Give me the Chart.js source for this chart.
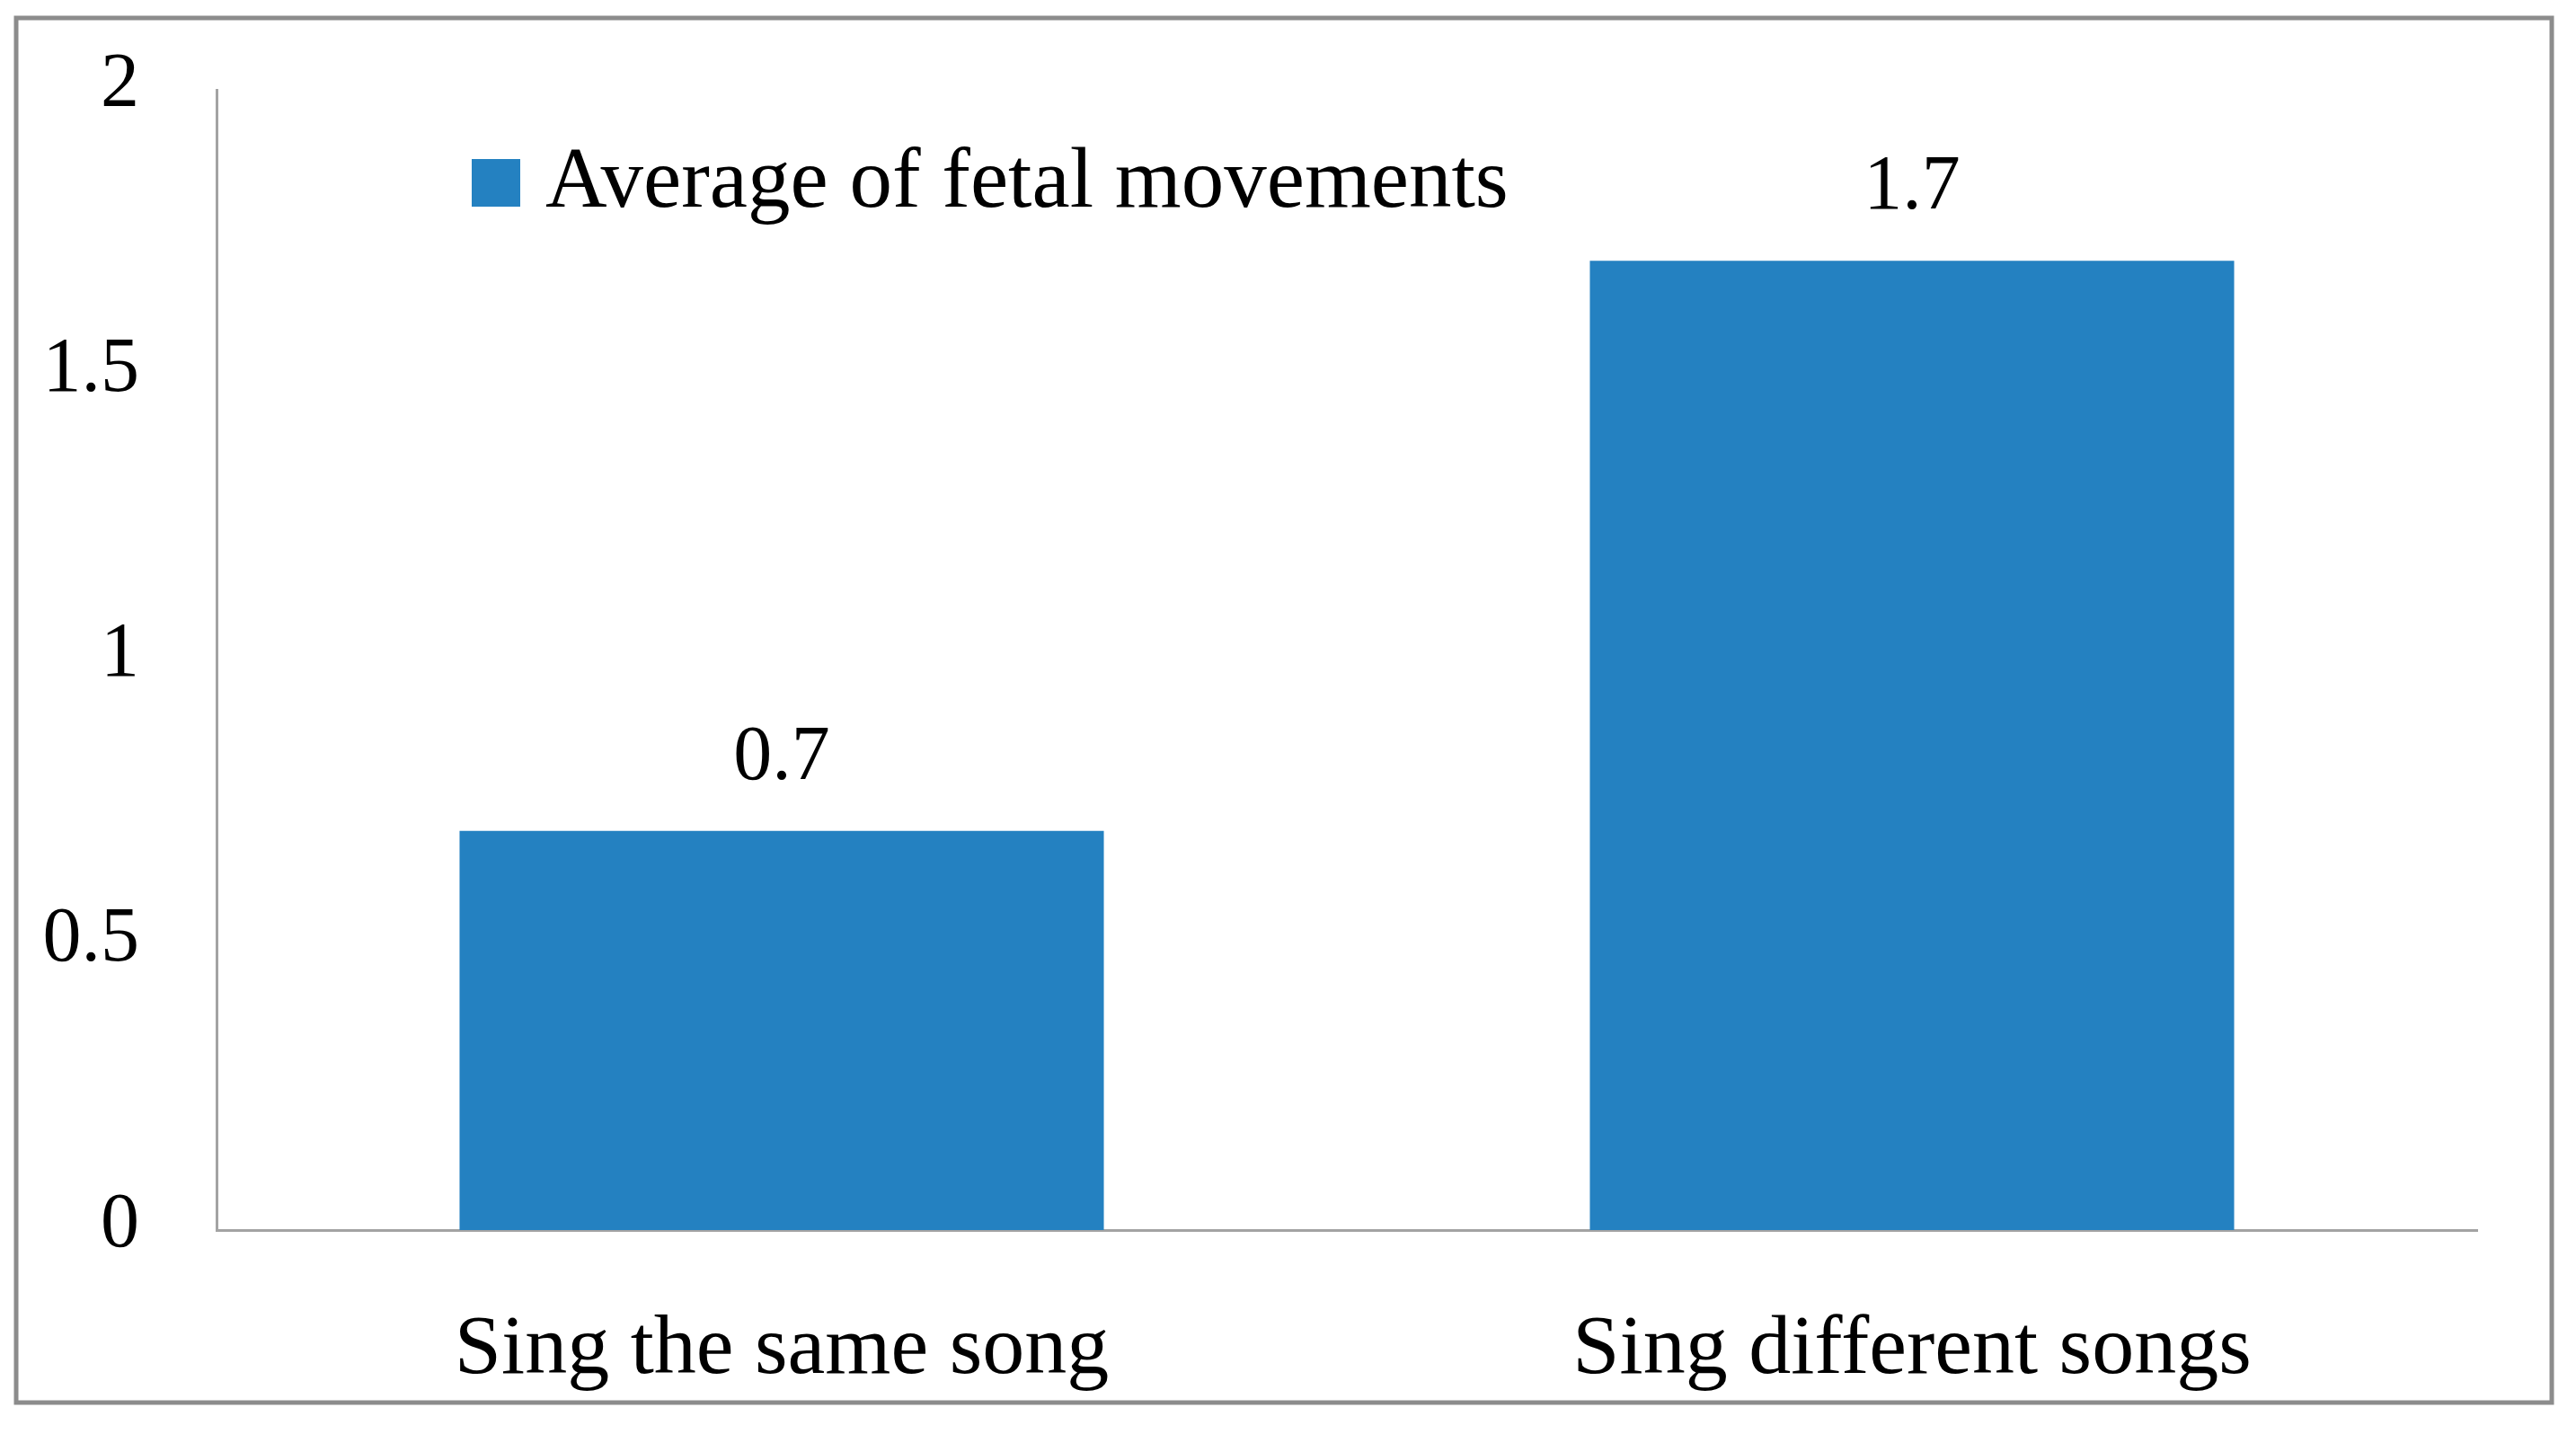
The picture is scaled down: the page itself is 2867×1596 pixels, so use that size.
<!doctype html>
<html style="height:100%;">
<head>
    <meta charset="utf-8" />
    <script src="https://cdn.jsdelivr.net/npm/chart.js@4.4.1/dist/chart.umd.min.js"></script>
</head>
<body style="margin:0;background:#fff;overflow:hidden;">
    <canvas id="myChart" width="2867" height="1596" style="display:block;width:2867px;height:1596px;"></canvas>
    <script>
        // data
        const categories = ["Sing the same song", "Sing different songs"];
        const seriesName = "Average of fetal movements";
        const averages = [0.7, 1.7];
        const yTicks = [0, 0.5, 1, 1.5, 2];

        const barColor = '#2481c1';
        const fontFamily = '"Liberation Serif", "Times New Roman", serif';

        // frame round the whole picture
        const framePlugin = {
            id: 'frame',
            beforeDraw(chart) {
                const c = chart.ctx;
                c.save();
                c.fillStyle = '#fff';
                c.fillRect(0, 0, chart.width, chart.height);
                c.strokeStyle = '#8c8c8c';
                c.lineWidth = 5;
                c.strokeRect(18, 20, 2822, 1541);
                c.restore();
            }
        };

        // legend sits inside the plot, drawn from the dataset itself
        const innerLegend = {
            id: 'innerLegend',
            afterDraw(chart) {
                const c = chart.ctx;
                const ds = chart.data.datasets[0];
                const x = chart.chartArea.left + 284;
                const base = chart.chartArea.top + 130;
                c.save();
                c.fillStyle = ds.backgroundColor;
                c.fillRect(x, base - 53, 54, 53);
                c.fillStyle = '#000';
                c.font = '95px ' + fontFamily;
                c.textAlign = 'left';
                c.textBaseline = 'alphabetic';
                c.fillText(ds.label, x + 82, base);
                c.restore();
            }
        };

        // value above each bar
        const valueLabels = {
            id: 'valueLabels',
            afterDatasetsDraw(chart) {
                const c = chart.ctx;
                const meta = chart.getDatasetMeta(0);
                c.save();
                c.fillStyle = '#000';
                c.font = '86px ' + fontFamily;
                c.textAlign = 'center';
                c.textBaseline = 'alphabetic';
                meta.data.forEach((bar, i) => {
                    c.fillText(String(chart.data.datasets[0].data[i]), bar.x, bar.y - 58);
                });
                c.restore();
            }
        };

        const ctx = document.getElementById('myChart').getContext('2d');
        const myChart = new Chart(ctx, {
            type: 'bar',
            data: {
                labels: categories,
                datasets: [{
                    label: seriesName,
                    data: averages,
                    backgroundColor: barColor,
                    borderWidth: 0,
                    barPercentage: 0.57,
                    categoryPercentage: 1
                }]
            },
            options: {
                responsive: false,
                maintainAspectRatio: false,
                animation: false,
                layout: { padding: { left: 0, top: 100, right: 110, bottom: 0 } },
                plugins: {
                    legend: { display: false },
                    tooltip: { enabled: false }
                },
                scales: {
                    x: {
                        grid: { display: false, drawTicks: false },
                        border: { display: true, color: '#a3a3a3', width: 3 },
                        ticks: {
                            color: '#000',
                            font: { family: fontFamily, size: 94 },
                            padding: 78,
                            maxRotation: 0
                        },
                        afterFit(scale) { scale.height = 227; }
                    },
                    y: {
                        min: 0,
                        max: 2,
                        grid: { display: false, drawTicks: false },
                        border: { display: true, color: '#a3a3a3', width: 3 },
                        afterBuildTicks(scale) { scale.ticks = yTicks.map(v => ({ value: v })); },
                        ticks: {
                            color: '#000',
                            font: { family: fontFamily, size: 86 },
                            padding: 86,
                            labelOffset: -5,
                            callback: v => String(v)
                        },
                        afterFit(scale) {
                            scale.width = 241;
                            scale.paddingTop = 0;
                            scale.paddingBottom = 0;
                        }
                    }
                }
            },
            plugins: [framePlugin, innerLegend, valueLabels]
        });
    </script>
</body>
</html>
